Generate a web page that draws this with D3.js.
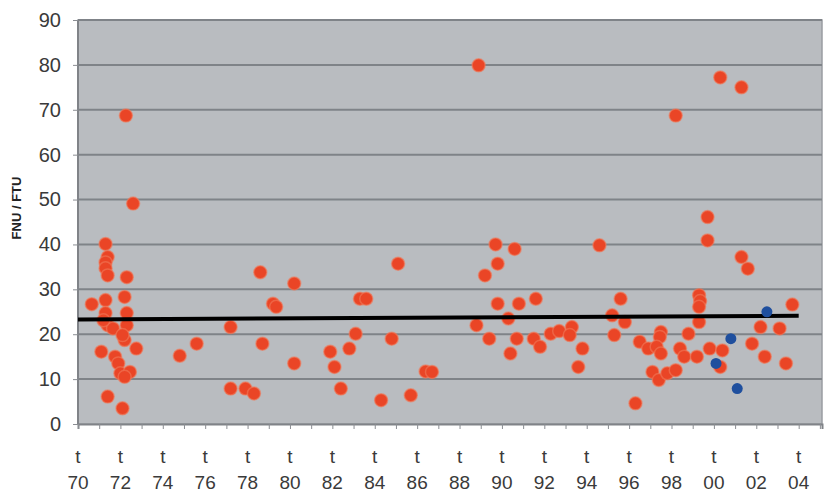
<!DOCTYPE html>
<html>
<head>
<meta charset="utf-8">
<script src="https://cdn.jsdelivr.net/npm/d3@7"></script>
<style>
  body { margin: 0; background: #fff; }
  text { font-family: "Liberation Sans", Arial, sans-serif; }
</style>
</head>
<body>
<div id="chart"></div>
<script>
// measurements, red series (decimal year, value)
var redYears = [
  1970.65, 1971.3, 1971.4, 1971.3, 1971.3, 1971.4, 1972.3, 1972.2, 1971.3, 1972.3,
  1971.3, 1971.4, 1971.65, 1972.3, 1972.2, 1972.75, 1971.1, 1971.75, 1971.9, 1972.0,
  1972.45, 1972.2, 1971.4, 1972.1, 1971.2, 1972.1, 1972.26, 1972.6,
  1974.8, 1975.6, 1978.6, 1980.2, 1979.2, 1979.35, 1977.2, 1978.7, 1980.2, 1977.2,
  1977.9, 1978.3, 1985.1, 1983.3, 1983.6, 1983.1, 1982.8, 1981.9, 1982.1, 1984.8,
  1982.4, 1984.3, 1985.7, 1986.4, 1986.7,
  1988.9, 1988.8, 1989.7, 1990.6, 1989.8, 1989.2, 1989.8, 1990.8, 1991.6, 1990.3,
  1989.4, 1990.7, 1990.4, 1991.5, 1991.8, 1992.3, 1992.7,
  1994.6, 1995.6, 1995.2, 1995.8, 1995.3, 1993.3, 1993.2, 1993.8, 1993.6,
  1999.3, 1999.35, 1999.3, 1999.3, 1997.5, 1997.45, 1998.8, 1996.5, 1996.9, 1997.3,
  1997.5, 1998.4, 1998.6, 1999.2, 1999.8, 1997.1, 1997.4, 1997.8, 1998.2, 1996.3,
  2000.3, 2001.3, 1998.2, 1999.7, 1999.7, 2001.3, 2001.6, 2003.7, 2002.2, 2003.1,
  2001.8, 2002.4, 2003.4, 2000.4, 2000.3
];
var redValues = [
  26.7, 40.1, 37.2, 36.0, 34.7, 33.1, 32.7, 28.3, 27.6, 24.7,
  24.7, 22.0, 21.3, 22.0, 18.7, 16.8, 16.1, 15.0, 13.5, 11.3,
  11.6, 10.5, 6.1, 3.5, 23.1, 19.8, 68.7, 49.1,
  15.2, 17.9, 33.8, 31.3, 26.8, 26.1, 21.6, 17.9, 13.5, 7.9,
  7.9, 6.8, 35.7, 27.9, 27.9, 20.1, 16.8, 16.1, 12.7, 19.0,
  7.9, 5.3, 6.4, 11.7, 11.6,
  79.9, 22.0, 40.0, 39.0, 35.7, 33.1, 26.8, 26.8, 27.9, 23.5,
  19.0, 19.0, 15.7, 19.0, 17.2, 20.1, 20.7,
  39.8, 27.9, 24.2, 22.7, 19.8, 21.6, 19.8, 16.8, 12.7,
  28.7, 27.4, 26.1, 22.7, 20.5, 19.4, 20.1, 18.3, 16.8, 17.2,
  15.7, 16.8, 15.0, 15.0, 16.8, 11.6, 9.8, 11.3, 12.0, 4.6,
  77.2, 75.0, 68.7, 46.1, 40.9, 37.2, 34.6, 26.6, 21.6, 21.3,
  17.9, 15.0, 13.5, 16.4, 12.7
];

// measurements, blue series
var blueYears = [2000.1, 2000.8, 2001.1, 2002.5];
var blueValues = [13.5, 19.0, 7.9, 25.0];

// linear trend end points
var trendYears = [1970, 2004];
var trendValues = [23.3, 24.1];

var yTicks = [0, 10, 20, 30, 40, 50, 60, 70, 80, 90];
var xLabelYears = [1970, 1972, 1974, 1976, 1978, 1980, 1982, 1984, 1986, 1988,
                   1990, 1992, 1994, 1996, 1998, 2000, 2002, 2004];
var xLabels = ["70", "72", "74", "76", "78", "80", "82", "84", "86", "88",
               "90", "92", "94", "96", "98", "00", "02", "04"];

var W = 829, H = 497;
var plot = {left: 78, right: 822, top: 20, bottom: 424};

var x = d3.scaleLinear().domain([1970, 2005.1]).range([plot.left, plot.right]);
var y = d3.scaleLinear().domain([0, 90]).range([plot.bottom, plot.top]);

var svg = d3.select("#chart").append("svg")
    .attr("width", W)
    .attr("height", H);

// plot background
svg.append("rect")
    .attr("x", plot.left).attr("y", plot.top)
    .attr("width", plot.right - plot.left).attr("height", plot.bottom - plot.top)
    .attr("fill", "#b9bcc0")
    .attr("stroke", "#9a9da2")
    .attr("stroke-width", 1.5);

// horizontal grid lines
svg.append("g").selectAll("line")
    .data(yTicks.filter(function(d) { return d > 0; }))
    .enter().append("line")
    .attr("x1", plot.left).attr("x2", plot.right)
    .attr("y1", function(d) { return y(d); })
    .attr("y2", function(d) { return y(d); })
    .attr("stroke", "#7f8388")
    .attr("stroke-width", 2);

// left edge
svg.append("line")
    .attr("x1", plot.left).attr("x2", plot.left)
    .attr("y1", plot.top).attr("y2", plot.bottom)
    .attr("stroke", "#808388").attr("stroke-width", 2);

// x axis with a tick every year
var xAxis = d3.axisBottom(x)
    .tickValues(d3.range(1970, 2006))
    .tickSize(5)
    .tickFormat("");
var gx = svg.append("g")
    .attr("transform", "translate(0," + plot.bottom + ")")
    .call(xAxis);
gx.select(".domain").attr("stroke", "#808388").attr("stroke-width", 2);
gx.selectAll(".tick line").attr("stroke", "#8a8d92");

// y axis
var yAxis = d3.axisLeft(y).tickValues(yTicks).tickSize(5).tickPadding(12);
var gy = svg.append("g")
    .attr("transform", "translate(" + plot.left + ",0)")
    .call(yAxis);
gy.select(".domain").remove();
gy.selectAll(".tick line").attr("stroke", "#8a8d92");
gy.selectAll(".tick text")
    .attr("fill", "#3a3a3a")
    .style("font-size", "20px");

// x labels in two rows
var xl = svg.append("g").selectAll("g")
    .data(xLabelYears)
    .enter().append("g")
    .attr("transform", function(d) { return "translate(" + x(d) + ",0)"; });
xl.append("text")
    .attr("y", 463)
    .attr("text-anchor", "middle")
    .attr("fill", "#3a3a3a")
    .style("font-size", "19px")
    .text("t");
xl.append("text")
    .attr("y", 489)
    .attr("text-anchor", "middle")
    .attr("fill", "#3a3a3a")
    .style("font-size", "19px")
    .text(function(d, i) { return xLabels[i]; });

// y title
svg.append("text")
    .attr("transform", "translate(21,208) rotate(-90)")
    .attr("text-anchor", "middle")
    .attr("fill", "#222")
    .style("font-size", "13px")
    .style("font-weight", "bold")
    .text("FNU / FTU");

// red points
svg.append("g").selectAll("circle")
    .data(redYears)
    .enter().append("circle")
    .attr("cx", function(d) { return x(d); })
    .attr("cy", function(d, i) { return y(redValues[i]); })
    .attr("r", 6.5)
    .attr("fill", "#ea4526")
    .attr("stroke", "#f07a5a")
    .attr("stroke-opacity", 0.6)
    .attr("stroke-width", 1.5);

// trend line
svg.append("line")
    .attr("x1", x(trendYears[0])).attr("y1", y(trendValues[0]))
    .attr("x2", x(trendYears[1])).attr("y2", y(trendValues[1]))
    .attr("stroke", "#000")
    .attr("stroke-width", 4);

// blue points
svg.append("g").selectAll("circle")
    .data(blueYears)
    .enter().append("circle")
    .attr("cx", function(d) { return x(d); })
    .attr("cy", function(d, i) { return y(blueValues[i]); })
    .attr("r", 5.5)
    .attr("fill", "#1f4f9e");
</script>
</body>
</html>
